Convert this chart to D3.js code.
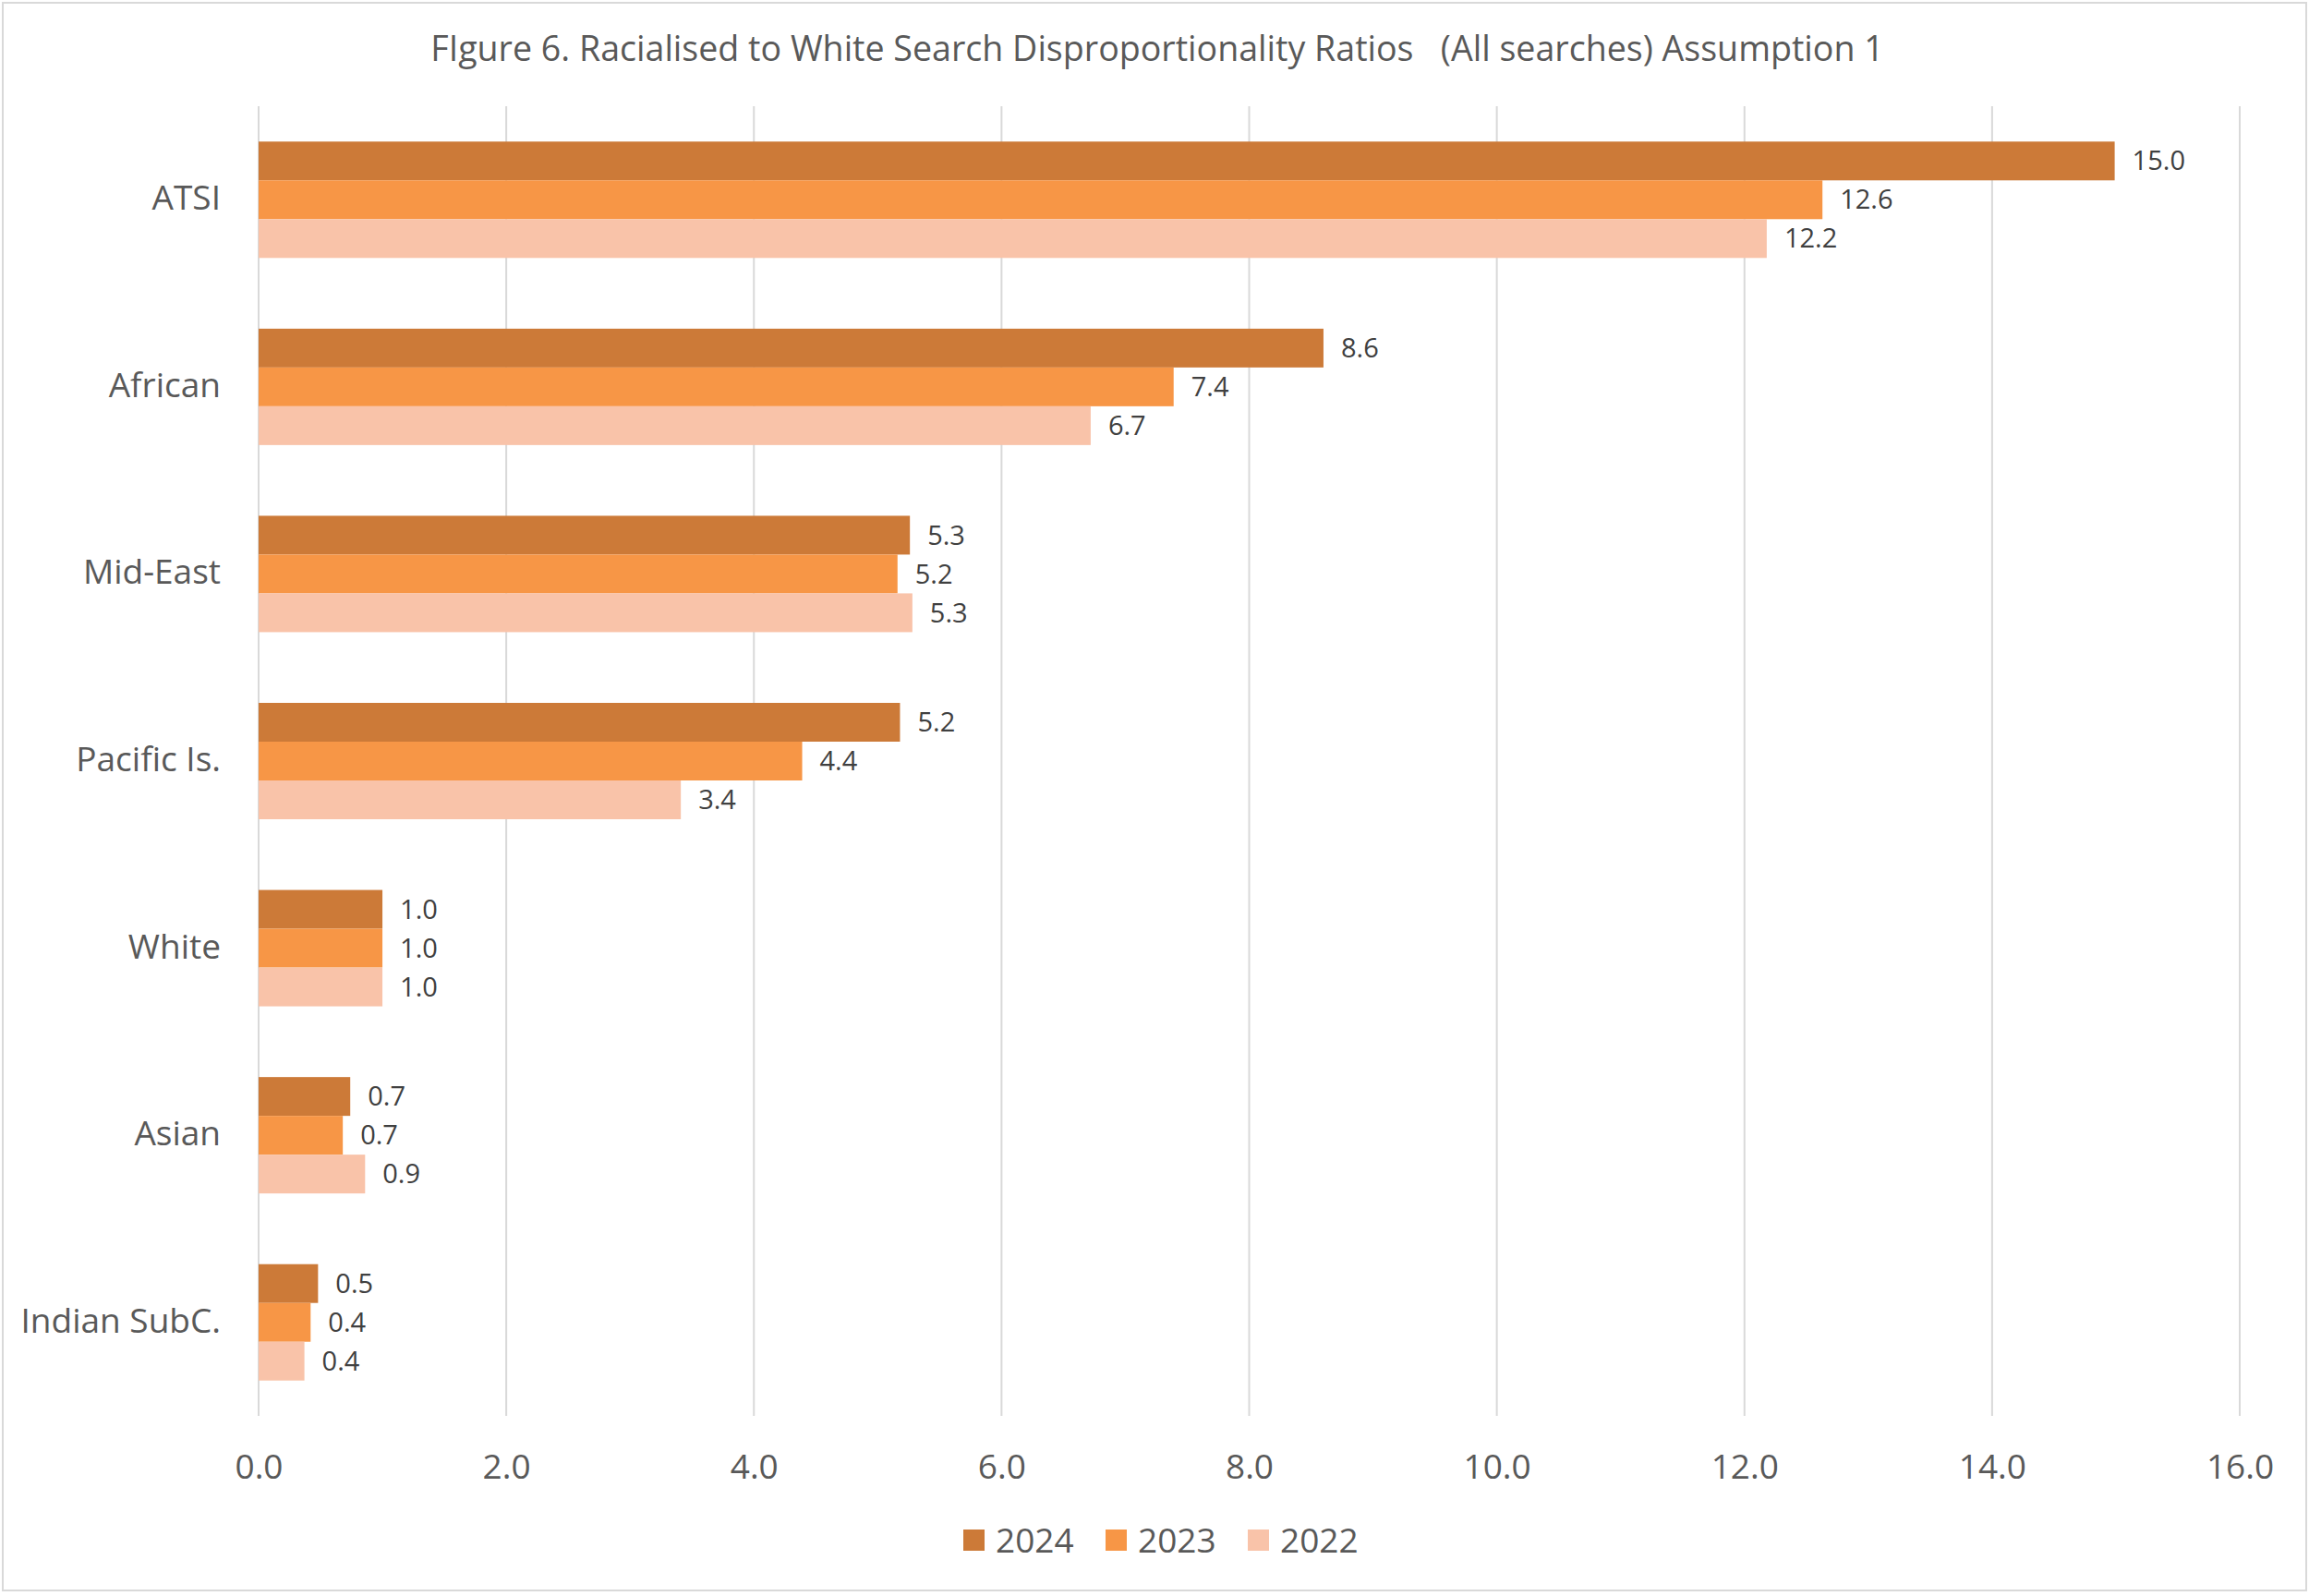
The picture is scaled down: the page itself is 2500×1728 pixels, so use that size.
<!DOCTYPE html>
<html>
<head>
<meta charset="utf-8">
<script src="https://cdn.jsdelivr.net/npm/d3@7"></script>
<style>
  html, body { margin: 0; padding: 0; background: #fff; }
  svg { display: block; font-family: "Open Sans", sans-serif; }
</style>
</head>
<body>
<svg id="chart" width="2500" height="1728"></svg>
<script>
const title = "FIgure 6. Racialised to White Search Disproportionality Ratios   (All searches) Assumption 1";
const categories = ["ATSI", "African", "Mid-East", "Pacific Is.", "White", "Asian", "Indian SubC."];
const years = ["2024", "2023", "2022"];
const values2024 = [14.99, 8.60, 5.26, 5.18, 1.0, 0.74, 0.48];
const values2023 = [12.63, 7.39, 5.16, 4.39, 1.0, 0.68, 0.42];
const values2022 = [12.18, 6.72, 5.28, 3.41, 1.0, 0.86, 0.37];
const xTicks = [0, 2, 4, 6, 8, 10, 12, 14, 16];
const colors = ["#CC7A38", "#F79646", "#F9C3A9"];

const seriesValues = [values2024, values2023, values2022];
const svg = d3.select("#chart");
const W = 2500, H = 1728;
const plot = { left: 280, right: 2425, top: 115, bottom: 1533 };

// outer border
svg.append("rect").attr("x", 3).attr("y", 3).attr("width", W - 6).attr("height", H - 9)
  .attr("fill", "#fff").attr("stroke", "#D9D9D9").attr("stroke-width", 2);

const x = d3.scaleLinear().domain([0, 16]).range([plot.left, plot.right]);
const y0 = d3.scaleBand().domain(categories).range([plot.top, plot.bottom])
  .paddingInner(0.378).paddingOuter(0.189);
const y1 = d3.scaleBand().domain(years).range([0, y0.bandwidth()]);

// gridlines
svg.append("g").selectAll("line").data(xTicks).join("line")
  .attr("x1", d => x(d)).attr("x2", d => x(d))
  .attr("y1", plot.top).attr("y2", plot.bottom)
  .attr("stroke", "#D9D9D9").attr("stroke-width", 2);

// x-axis labels
const xAxis = d3.axisBottom(x).tickValues(xTicks).tickFormat(d3.format(".1f")).tickSize(0).tickPadding(0);
const gx = svg.append("g").attr("transform", `translate(0,${plot.bottom})`).call(xAxis);
gx.select(".domain").remove();
gx.selectAll("text").attr("y", 55).attr("dy", "0.35em")
  .attr("font-size", 37).attr("fill", "#595959").attr("font-family", "Open Sans");

// y-axis labels
const yAxis = d3.axisLeft(y0).tickSize(0).tickPadding(0);
const gy = svg.append("g").attr("transform", `translate(${plot.left},0)`).call(yAxis);
gy.select(".domain").remove();
gy.selectAll("text").attr("x", -41).attr("y", -2).attr("dy", "0.35em")
  .attr("font-size", 37).attr("fill", "#595959").attr("font-family", "Open Sans");

// bars
const rows = categories.map((c, i) => ({ cat: c, vals: years.map((yr, j) => ({ yr, j, v: seriesValues[j][i] })) }));
const groups = svg.append("g").selectAll("g").data(rows).join("g")
  .attr("transform", d => `translate(0,${y0(d.cat)})`);

groups.selectAll("rect").data(d => d.vals).join("rect")
  .attr("x", x(0))
  .attr("y", d => y1(d.yr))
  .attr("width", d => x(d.v) - x(0))
  .attr("height", y1.bandwidth())
  .attr("fill", d => colors[d.j]);

groups.selectAll("text").data(d => d.vals).join("text")
  .attr("x", d => x(d.v) + 19)
  .attr("y", d => y1(d.yr) + y1.bandwidth() / 2)
  .attr("dy", "0.35em")
  .attr("font-size", 29).attr("fill", "#404040")
  .text(d => d3.format(".1f")(d.v));

// title
svg.append("text").attr("x", 1253).attr("y", 53).attr("dy", "0.35em")
  .attr("text-anchor", "middle").attr("font-size", 37.6).attr("fill", "#595959")
  .attr("xml:space", "preserve")
  .text(title);

// legend
const legend = svg.append("g").selectAll("g").data(years).join("g")
  .attr("transform", (d, i) => `translate(${1043 + i * 154},1656)`);
legend.append("rect").attr("width", 23).attr("height", 23).attr("fill", (d, i) => colors[i]);
legend.append("text").attr("x", 35).attr("y", 11.5).attr("dy", "0.36em")
  .attr("font-size", 37).attr("fill", "#595959").text(d => d);
</script>
</body>
</html>
